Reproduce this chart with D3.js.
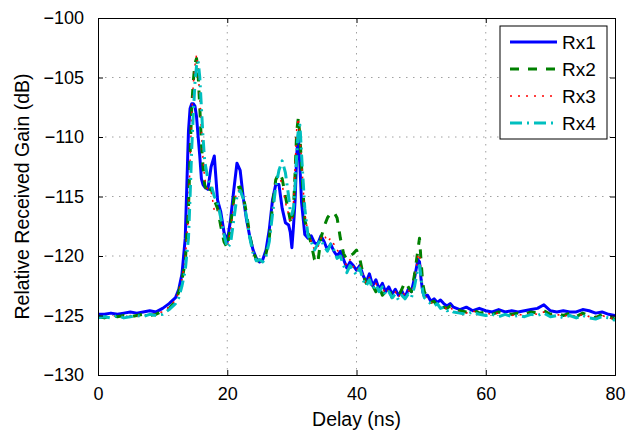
<!DOCTYPE html>
<html><head><meta charset="utf-8">
<script src="https://cdn.jsdelivr.net/npm/d3@7"></script>
<style>body{margin:0;background:#fff}text{font-family:"Liberation Sans",Arial,sans-serif}</style>
</head><body><svg id="c" width="642" height="435"></svg>
<script>
const delays = [0,1,2,3,4,5,6,7,8,9,10,11,
12,12.5,13,13.5,
14,14.25,14.5,14.75,15,15.25,15.5,15.75,16,16.25,16.5,
17,17.5,18,18.5,19,19.5,20,20.5,21,21.5,22,22.5,23,23.5,24,24.5,25,25.5,26,26.5,27,27.5,28,28.5,29,29.5,
29.75,30,30.25,30.5,30.75,31,31.25,
31.5,32,32.5,33,33.5,34,34.5,35,35.5,36,36.5,37,37.5,38,38.5,39,39.5,40,40.5,41,41.5,42,42.5,43,43.5,44,44.5,45,45.5,46,46.5,47,47.5,48,48.5,49,
49.5,49.75,50,50.25,
50.5,51,51.5,52,52.5,53,53.5,54,54.5,55,
56,57,58,59,60,61,62,63,64,65,66,67,68,69,70,71,72,73,74,75,76,77,78,79,80];

const rx1 = [-124.9,-124.9,-124.8,-124.9,-124.8,-124.7,-124.8,-124.7,-124.6,-124.7,-124.4,-124.0,
-123.5,-122.8,-121.5,-118.5,
-109.5,-107.6,-107.2,-107.2,-107.4,-108.3,-110.0,-111.6,-113.5,-114.0,-114.2,
-114.4,-112.5,-111.6,-115.3,-116.3,-118.0,-118.8,-117.0,-114.5,-112.2,-112.8,-115.2,-117.0,-118.4,-119.5,-120.2,-120.5,-120.3,-119.5,-117.8,-115.3,-114.0,-114.0,-116.0,-117.2,-117.4,
-118.0,-119.3,-117.5,-115.3,-111.5,-109.8,-112.5,
-115.5,-118.2,-118.5,-118.3,-118.9,-119.0,-118.3,-118.8,-119.5,-119.0,-119.6,-120.0,-119.6,-120.3,-121.0,-120.5,-120.8,-121.2,-120.8,-121.6,-122.2,-121.5,-122.5,-122.0,-122.8,-122.3,-123.0,-122.6,-123.2,-122.8,-123.3,-122.9,-123.5,-122.8,-123.0,-121.8,
-120.3,-120.5,-122.0,-123.0,
-123.4,-123.3,-123.8,-123.6,-123.9,-123.7,-124.0,-124.2,-124.0,-124.3,
-124.5,-124.3,-124.6,-124.4,-124.6,-124.7,-124.5,-124.7,-124.6,-124.7,-124.6,-124.5,-124.4,-124.1,-124.6,-124.7,-124.6,-124.7,-124.7,-124.5,-124.6,-124.8,-124.7,-124.9,-125.0];

const rx2 = [-125.1,-125.2,-125.0,-125.1,-125.0,-125.1,-125.0,-124.9,-125.0,-124.9,-124.6,-124.4,
-123.8,-123.0,-122.0,-120.5,
-116.0,-111.5,-107.5,-105.3,-103.8,-103.4,-104.8,-107.5,-110.5,-112.5,-114.0,
-114.8,-114.3,-115.3,-116.0,-117.5,-118.8,-119.3,-117.5,-115.3,-114.3,-114.2,-115.0,-116.5,-118.3,-119.6,-120.3,-120.5,-120.3,-119.8,-118.5,-115.8,-113.6,-113.0,-113.5,-115.0,-116.3,
-117.0,-117.3,-116.0,-113.0,-109.5,-108.4,-110.0,
-112.5,-117.0,-118.0,-119.0,-120.3,-120.6,-118.5,-117.5,-116.8,-116.4,-116.3,-116.8,-118.5,-119.8,-120.3,-120.0,-119.8,-119.5,-120.2,-121.5,-122.3,-122.0,-122.5,-123.0,-122.5,-123.3,-123.0,-122.7,-123.5,-123.2,-123.4,-122.8,-122.2,-122.6,-123.0,-121.5,
-119.5,-118.5,-120.5,-122.3,
-123.0,-123.5,-123.9,-123.8,-124.2,-124.0,-124.3,-124.4,-124.2,-124.5,
-124.6,-124.7,-124.5,-124.8,-124.7,-124.9,-124.7,-124.8,-124.9,-124.8,-124.9,-124.7,-124.8,-124.6,-124.9,-124.8,-125.0,-124.8,-125.1,-124.8,-125.0,-125.2,-124.9,-125.1,-125.3];

const rx3 = [-125.1,-125.2,-125.1,-125.0,-125.1,-125.0,-125.1,-124.9,-125.0,-124.8,-124.7,-124.3,
-123.7,-123.0,-122.0,-120.3,
-116.5,-112.0,-108.0,-105.5,-104.0,-103.1,-104.3,-106.8,-109.5,-111.8,-113.5,
-114.5,-114.5,-116.2,-116.0,-117.0,-118.5,-119.2,-118.0,-115.8,-114.5,-114.5,-115.3,-116.8,-118.5,-119.8,-120.4,-120.6,-120.4,-119.9,-118.8,-116.0,-113.8,-113.2,-114.0,-115.5,-116.5,
-117.2,-117.0,-115.5,-112.5,-109.3,-108.4,-109.8,
-112.0,-116.5,-118.0,-118.8,-119.5,-119.3,-118.5,-118.2,-118.8,-118.5,-119.0,-119.5,-119.8,-120.4,-120.8,-120.3,-120.9,-121.3,-120.7,-121.6,-122.3,-121.8,-122.6,-122.3,-122.9,-122.6,-123.2,-122.8,-123.4,-123.0,-123.5,-123.0,-123.3,-122.9,-123.1,-122.0,
-120.0,-119.8,-121.3,-122.8,
-123.3,-123.6,-123.9,-124.0,-124.1,-124.2,-124.2,-124.5,-124.3,-124.6,
-124.7,-124.8,-124.6,-124.9,-124.8,-124.9,-124.8,-124.9,-125.0,-124.9,-125.0,-124.8,-124.9,-124.7,-125.0,-124.9,-125.1,-124.9,-125.1,-124.9,-125.1,-125.2,-125.0,-125.2,-125.3];

const rx4 = [-125.2,-125.1,-125.2,-125.0,-125.2,-125.1,-125.0,-125.1,-124.9,-125.0,-124.9,-124.5,
-124.0,-123.5,-122.5,-121.2,
-118.5,-115.0,-111.0,-108.0,-105.5,-104.0,-103.6,-105.0,-107.5,-110.0,-112.0,
-113.5,-114.0,-115.0,-115.5,-116.8,-118.2,-119.3,-119.0,-117.0,-115.0,-114.5,-115.2,-116.8,-118.5,-119.8,-120.4,-120.3,-120.5,-120.0,-118.8,-116.5,-114.2,-112.8,-112.0,-113.0,-115.0,
-116.2,-116.5,-116.0,-114.0,-111.5,-109.3,-109.0,
-111.5,-116.0,-118.3,-118.8,-119.5,-119.0,-118.6,-119.2,-119.6,-119.0,-119.5,-120.2,-120.0,-120.8,-121.4,-120.8,-121.2,-121.6,-121.0,-122.0,-122.5,-122.0,-122.8,-122.4,-123.0,-122.6,-123.3,-123.0,-123.5,-123.2,-123.7,-123.3,-123.6,-123.2,-123.5,-122.5,
-121.0,-120.8,-121.8,-123.0,
-123.5,-123.8,-124.0,-124.2,-124.0,-124.4,-124.3,-124.6,-124.5,-124.7,
-124.8,-124.9,-124.7,-124.9,-125.0,-124.9,-125.1,-124.9,-125.1,-125.0,-125.1,-124.9,-125.0,-124.8,-125.1,-125.0,-125.2,-125.0,-125.2,-125.0,-125.2,-125.3,-125.1,-125.2,-125.4];

const seriesNames = ["Rx1","Rx2","Rx3","Rx4"];
const xTicks = [0,20,40,60,80];
const yTicks = [-130,-125,-120,-115,-110,-105,-100];
const xLabel = "Delay (ns)";
const yLabel = "Relative Received Gain (dB)";

const styles = [
  {color:"#0000ff", width:3, dash:null},
  {color:"#008000", width:3, dash:"9,9"},
  {color:"#ff0000", width:1.5, dash:"2,6"},
  {color:"#00bfbf", width:3, dash:"12,5,2,5"}
];

const L=98, R=615, T=18, B=375;
const svg = d3.select("#c");
const x = d3.scaleLinear().domain([0,80]).range([L,R]);
const y = d3.scaleLinear().domain([-130,-100]).range([B,T]);
const fmt = d => (d<0 ? "\u2212"+Math.abs(d) : String(d));

// grid
const grid = svg.append("g");
grid.selectAll("line.gx").data(xTicks.slice(1,-1)).join("line")
  .attr("x1",d=>x(d)).attr("x2",d=>x(d)).attr("y1",T).attr("y2",B);
grid.selectAll("line.gy").data(yTicks.slice(1,-1)).join("line")
  .attr("y1",d=>y(d)).attr("y2",d=>y(d)).attr("x1",L).attr("x2",R);
grid.selectAll("line").attr("stroke","#a0a0a0").attr("stroke-width",1).attr("stroke-dasharray","1.5,5.5");

// lines
svg.append("defs").append("clipPath").attr("id","clip").append("rect")
  .attr("x",L).attr("y",T).attr("width",R-L).attr("height",B-T);
const allSeries = [rx1,rx2,rx3,rx4];
const line = d3.line().x((d,i)=>x(delays[i])).y(d=>y(d));
const lg = svg.append("g").attr("clip-path","url(#clip)");
allSeries.forEach((s,k)=>{
  lg.append("path").datum(s).attr("d",line).attr("fill","none")
    .attr("stroke",styles[k].color).attr("stroke-width",styles[k].width)
    .attr("stroke-linejoin","round")
    .attr("stroke-dasharray",styles[k].dash);
});

// axes with inward ticks
const axB = d3.axisBottom(x).tickValues(xTicks).tickSize(-5).tickPadding(12).tickFormat(fmt);
const axT = d3.axisTop(x).tickValues(xTicks).tickSize(-5).tickFormat("");
const axL = d3.axisLeft(y).tickValues(yTicks).tickSize(-5).tickPadding(14).tickFormat(fmt);
const axR = d3.axisRight(y).tickValues(yTicks).tickSize(-5).tickFormat("");
[[axB,`translate(0,${B})`],[axT,`translate(0,${T})`],[axL,`translate(${L},0)`],[axR,`translate(${R},0)`]].forEach(([a,t])=>{
  const g = svg.append("g").attr("transform",t).call(a);
  g.select(".domain").attr("stroke","#000").attr("stroke-width",1);
  g.selectAll(".tick line").attr("stroke","#000");
  g.selectAll("text").attr("font-size",18).attr("fill","#000")
   .style("font-family",'"Liberation Sans",Arial,sans-serif');
});

// labels
svg.append("text").attr("x",(L+R)/2).attr("y",426).attr("text-anchor","middle")
  .attr("font-size",19.5).text(xLabel);
svg.append("text").attr("transform",`translate(29,${(T+B)/2}) rotate(-90)`)
  .attr("text-anchor","middle").attr("font-size",19.5).text(yLabel);

// legend
const lgX=500, lgY=26, lgW=107, lgH=113;
const leg = svg.append("g");
leg.append("rect").attr("x",lgX).attr("y",lgY).attr("width",lgW).attr("height",lgH)
  .attr("fill","#fff").attr("stroke","#000").attr("stroke-width",1);
seriesNames.forEach((n,k)=>{
  const yy = lgY + 16 + k*27;
  leg.append("line").attr("x1",510).attr("x2",557).attr("y1",yy).attr("y2",yy)
    .attr("stroke",styles[k].color).attr("stroke-width",styles[k].width)
    .attr("stroke-dasharray",styles[k].dash);
  leg.append("text").attr("x",562).attr("y",yy).attr("dy","0.35em")
    .attr("font-size",19).text(n);
});
</script></body></html>
